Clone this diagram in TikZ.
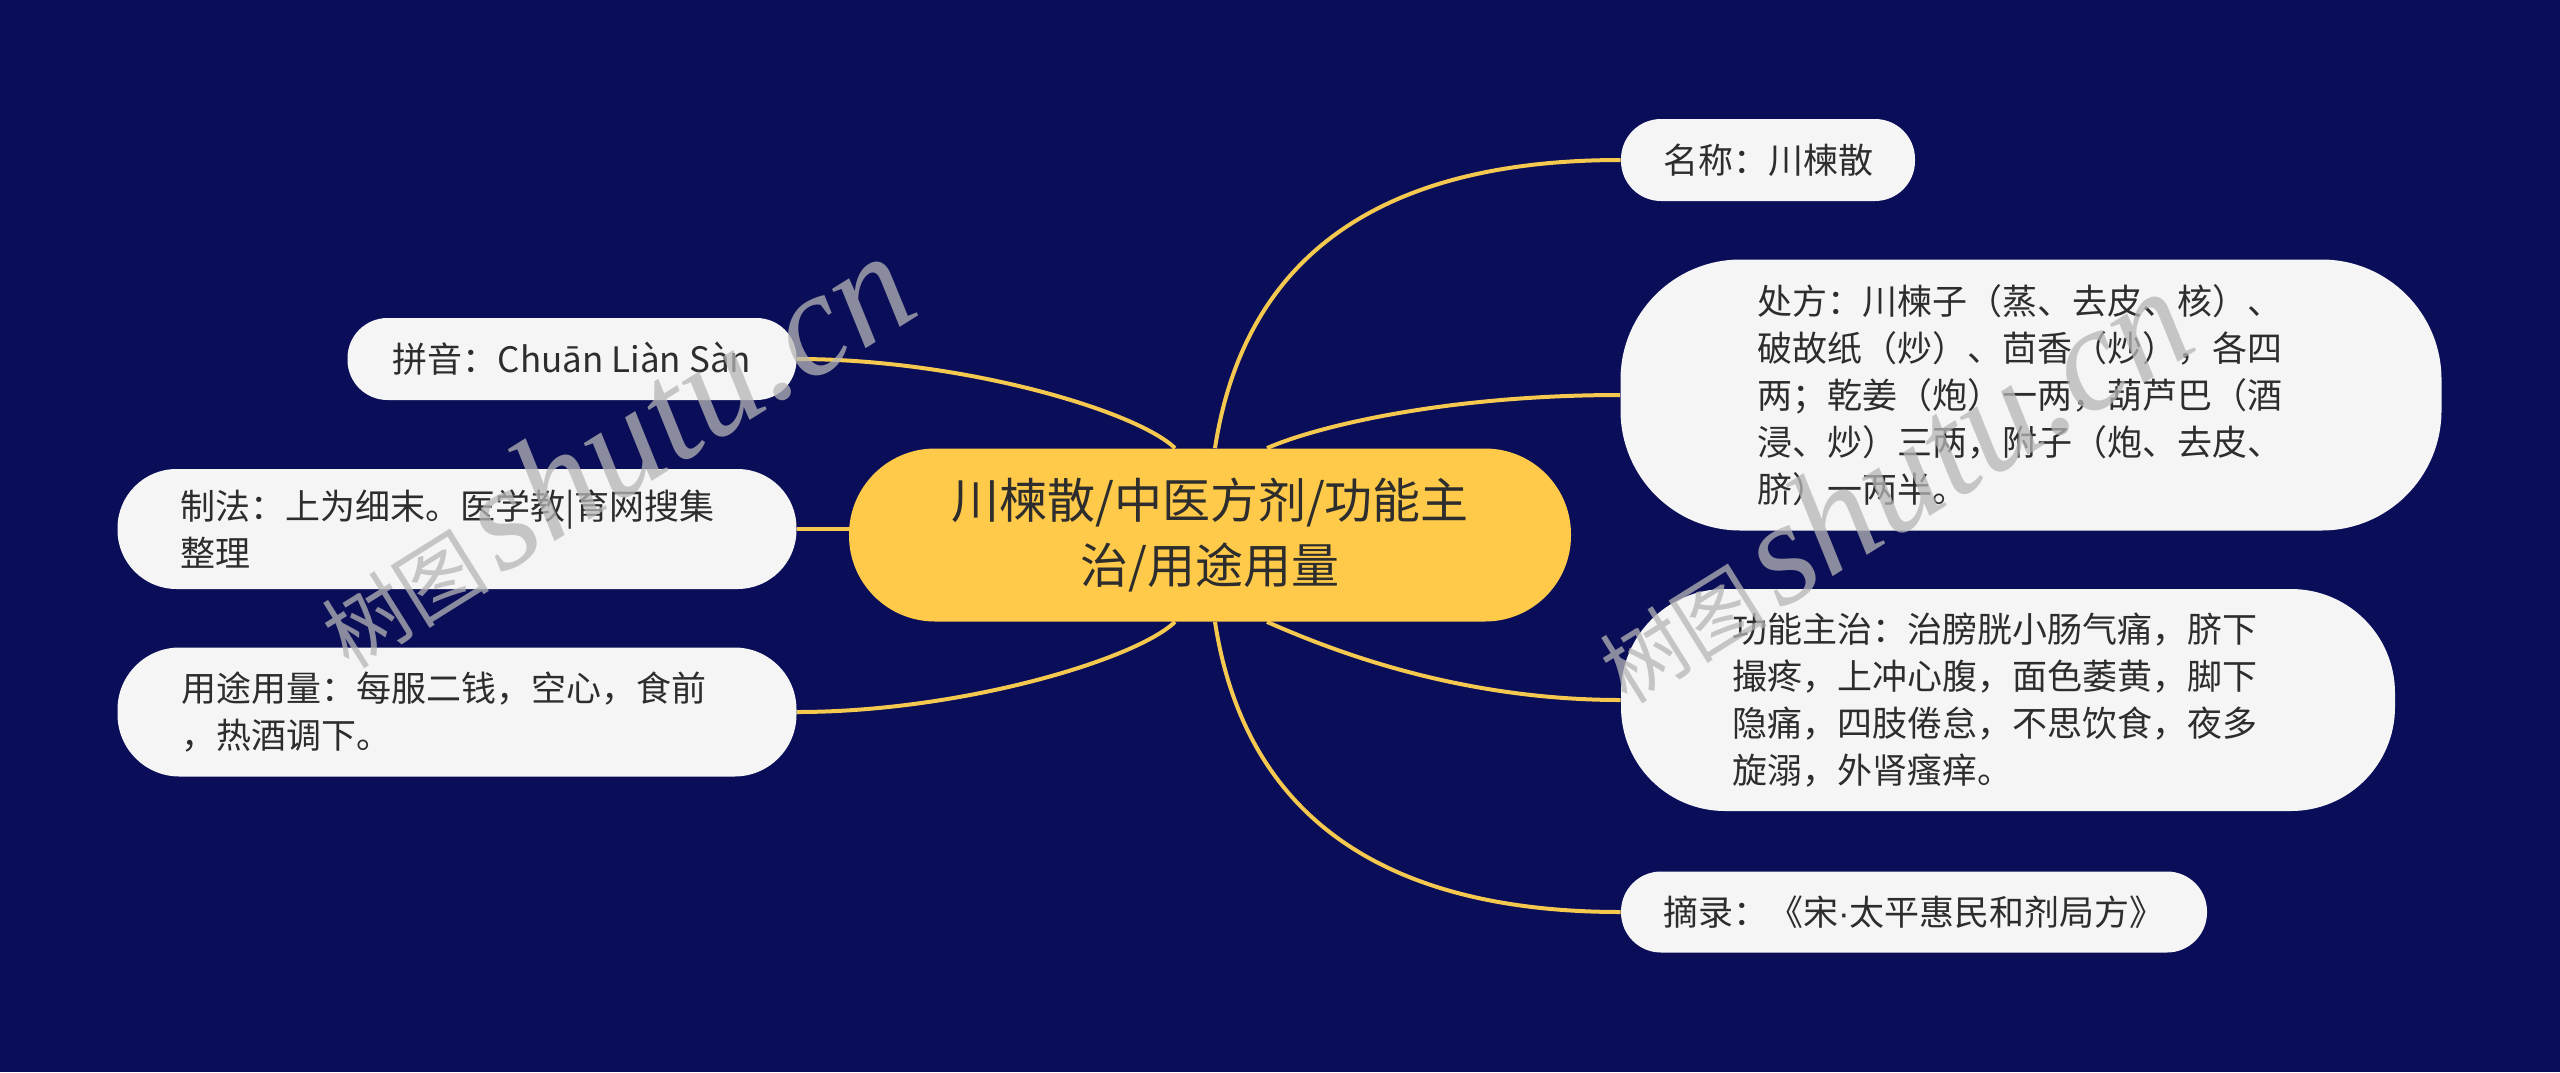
\documentclass[tikz,border=0pt]{standalone}
\usepackage{fontspec}
\setmainfont{Noto Sans CJK SC}
\newfontfamily\wmlatin{Liberation Serif}
\newfontfamily\dotfont{Liberation Sans}
\definecolor{bgnavy}{RGB}{10,13,88}
\definecolor{linegold}{RGB}{245,200,80}
\definecolor{rootfill}{RGB}{255,201,74}
\definecolor{leaffill}{RGB}{245,245,245}
\definecolor{txt}{RGB}{45,45,45}
\definecolor{wmgray}{RGB}{182,182,182}
\pgfdeclarelayer{bglayer}
\pgfdeclarelayer{edgelayer}
\pgfsetlayers{bglayer,edgelayer,main}
\tikzset{
  leaf/.style={fill=leaffill, text=txt, inner sep=0pt,
    font=\fontsize{17.5pt}{23.5pt}\selectfont, align=left},
  rootnode/.style={fill=rootfill, text=txt, inner sep=0pt,
    font=\fontsize{24pt}{32.5pt}\selectfont, align=center,
    minimum width=361pt, minimum height=86.5pt, rounded corners=43pt},
  link/.style={draw=linegold, line width=2pt},
  wm/.style={text=wmgray, text opacity=0.75, anchor=base west, rotate=32, inner sep=0pt}
}
\begin{document}
\begin{tikzpicture}[x=0.5pt,y=-0.5pt]
\begin{pgfonlayer}{bglayer}
\fill[bgnavy] (0,0) rectangle (2560,1072);
\end{pgfonlayer}
\useasboundingbox (0,0) rectangle (2560,1072);

\node[rootnode] (c) at (1210,535) {川楝散/中医方剂/功能主\\治/用途用量};

\node[leaf, minimum width=147pt, minimum height=41pt, rounded corners=20pt] (n1) at (1768,160) {名称：川楝散};
\node[leaf, text width=274pt, minimum width=410.5pt, minimum height=135.5pt, rounded corners=60pt] (n2) at (2031,395) {处方：川楝子（蒸、去皮、核）、\\破故纸（炒）、茴香（炒），各四\\两；乾姜（炮）一两，葫芦巴（酒\\浸、炒）三两，附子（炮、去皮、\\脐）一两半。};
\node[leaf, text width=276pt, minimum width=387pt, minimum height=111pt, rounded corners=52pt] (n3) at (2008,700) {功能主治：治膀胱小肠气痛，脐下\\撮疼，上冲心腹，面色萎黄，脚下\\隐痛，四肢倦怠，不思饮食，夜多\\旋溺，外肾瘙痒。};
\node[leaf, minimum width=293pt, minimum height=40.5pt, rounded corners=20pt] (n4) at (1914,912) {摘录：《宋{\dotfont ·}太平惠民和剂局方》};

\node[leaf, minimum width=224.5pt, minimum height=41pt, rounded corners=20pt] (n5) at (572,359) {拼音：Chuān Liàn Sàn};
\node[leaf, text width=277pt, minimum width=339.5pt, minimum height=60pt, rounded corners=29.5pt] (n6) at (457,529) {制法：上为细末。医学教|育网搜集\\整理};
\node[leaf, text width=276pt, minimum width=339.5pt, minimum height=64.5pt, rounded corners=31pt] (n7) at (457,712) {用途用量：每服二钱，空心，食前\\，热酒调下。};

\begin{pgfonlayer}{edgelayer}
\draw[link] ([xshift=2.5pt]c.north) .. controls (1250,220) and (1430,160) .. (n1.west);
\draw[link] ([xshift=28.5pt]c.north) .. controls (1320,425) and (1450,395) .. (n2.west);
\draw[link] ([xshift=28.5pt]c.south) .. controls (1320,645) and (1450,700) .. (n3.west);
\draw[link] ([xshift=2.5pt]c.south) .. controls (1250,850) and (1430,912) .. (n4.west);
\draw[link] ([xshift=-17.5pt]c.north) .. controls (1135,410) and (960,359) .. (n5.east);
\draw[link] (n6.east) -- (n6.east -| c.center);
\draw[link] ([xshift=-17.5pt]c.south) .. controls (1135,660) and (960,712) .. (n7.east);
\end{pgfonlayer}

\node[wm] (w1) at (349,671) {{\fontsize{42pt}{42pt}\selectfont 树图}\hspace{6pt}{\wmlatin\itshape\fontsize{74pt}{74pt}\selectfont shutu.cn}};
\node[wm] (w2) at (1627,706) {{\fontsize{42pt}{42pt}\selectfont 树图}\hspace{6pt}{\wmlatin\itshape\fontsize{74pt}{74pt}\selectfont shutu.cn}};
\end{tikzpicture}
\end{document}
